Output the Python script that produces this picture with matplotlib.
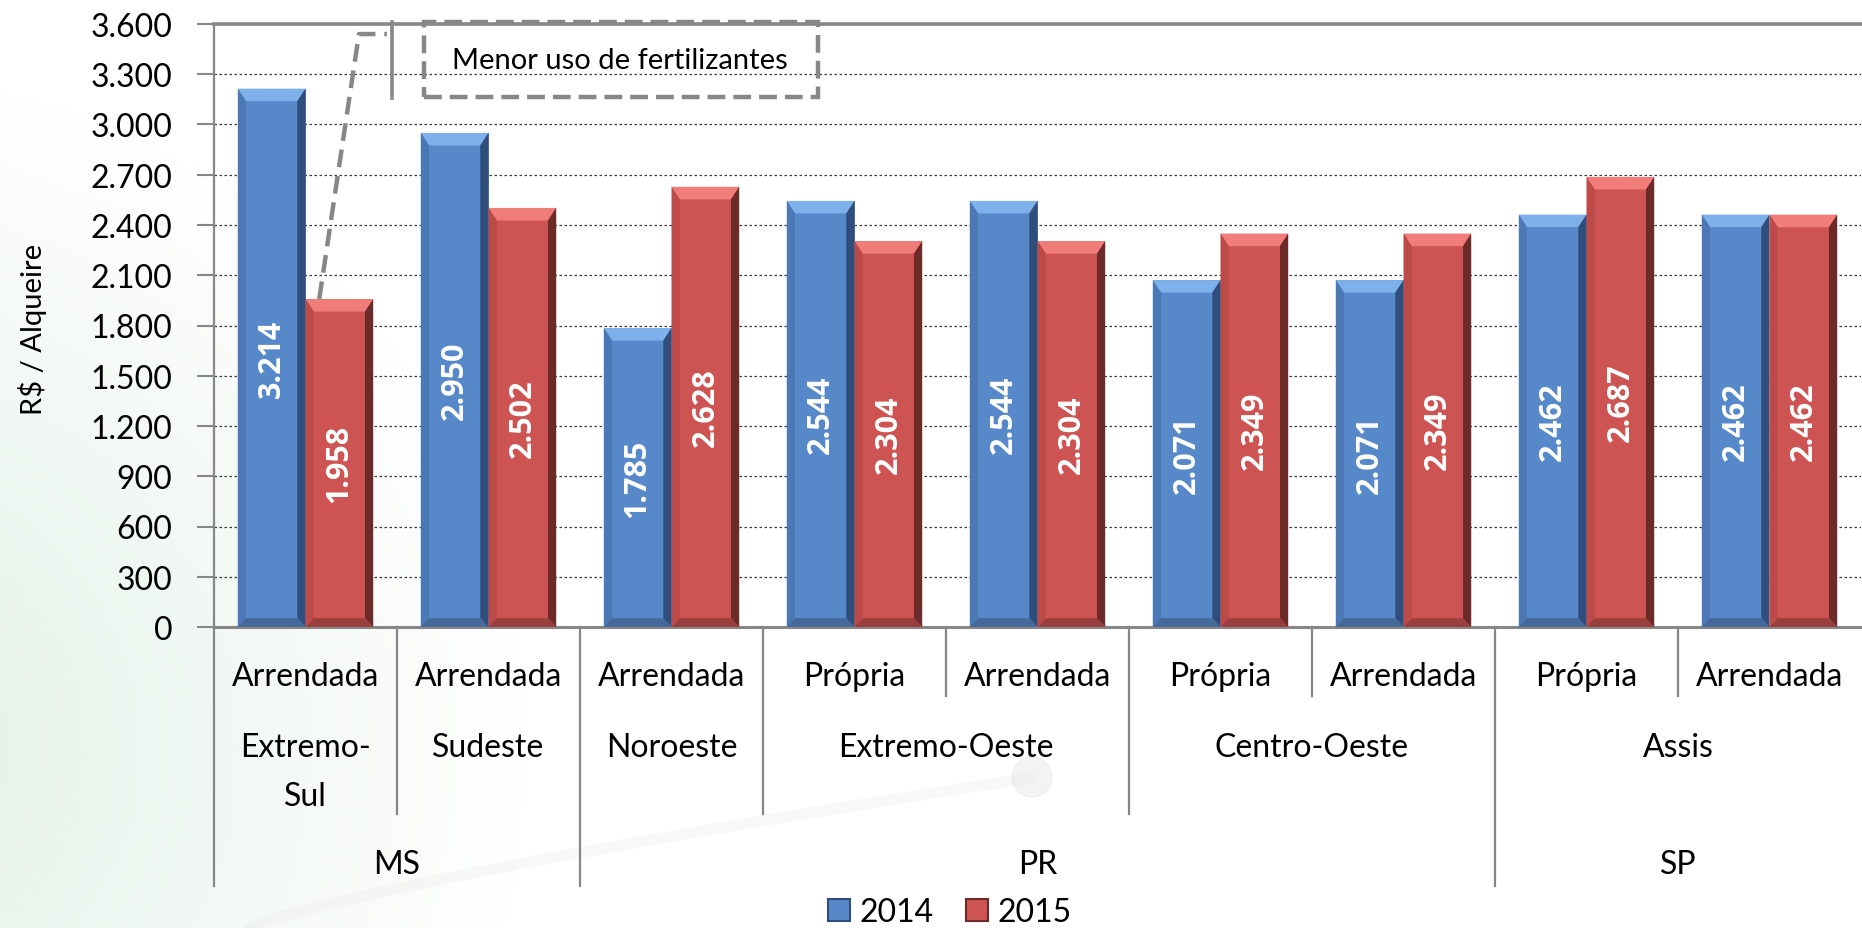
import numpy as np
import matplotlib
matplotlib.use("Agg")
import matplotlib.pyplot as plt
from matplotlib.patches import Polygon, Rectangle, Patch, Circle

plt.rcParams["font.family"] = ["Lato", "DejaVu Sans"]

# data
ownership = ["Arrendada", "Arrendada", "Arrendada", "Própria", "Arrendada",
             "Própria", "Arrendada", "Própria", "Arrendada"]
regions = ["Extremo-\nSul", "Sudeste", "Noroeste", "Extremo-Oeste", "Centro-Oeste", "Assis"]
region_sizes = [1, 1, 1, 2, 2, 2]
states = ["MS", "PR", "SP"]
state_sizes = [2, 5, 2]
years = ["2014", "2015"]
cost_2014 = [3214, 2950, 1785, 2544, 2544, 2071, 2071, 2462, 2462]
cost_2015 = [1958, 2502, 2628, 2304, 2304, 2349, 2349, 2687, 2462]
y_ticks = list(range(0, 3601, 300))

blue = {"face": "#5788c9", "top": "#7eb0ea", "left": "#4c79b5", "right": "#2f4e7c", "bottom": "#46699c"}
red = {"face": "#cd5452", "top": "#f07d7a", "left": "#bb4a48", "right": "#6c2a29", "bottom": "#9a3f3d"}
grey = "#878787"

W, H = 1862, 929
fig = plt.figure(figsize=(W / 100, H / 100), dpi=100)

# faint watermark-like background
bg = fig.add_axes([0, 0, 1, 1], zorder=-10)
gx, gy = np.meshgrid(np.linspace(0, W, 300), np.linspace(0, H, 150))
dist = np.hypot(gx + 150, gy - 750)
alpha = np.clip(1 - dist / 680, 0, 1) * 0.6
img = np.ones((150, 300, 4))
img[..., 0], img[..., 1], img[..., 2] = 0.80, 0.90, 0.83
img[..., 3] = alpha
bg.imshow(img, extent=[0, W, H, 0], aspect="auto")
t = np.linspace(0, 1, 50)
bg.plot(250 + 780 * t, 929 - 150 * t ** 0.8, color="#e6e6e6", lw=8, alpha=0.25, solid_capstyle="round")
bg.add_patch(Circle((1032, 778), 20, color="#e6e6e6", alpha=0.45))
bg.set_xlim(0, W)
bg.set_ylim(H, 0)
bg.axis("off")

ax = fig.add_axes([214 / W, (H - 628) / H, (1861 - 214) / W, 603 / H])
ax.set_facecolor("none")

x = np.arange(len(cost_2014)) + 0.5
bw = 0.37
bars = []
for vals, off, pal in [(cost_2014, -bw / 2, blue), (cost_2015, bw / 2, red)]:
    cont = ax.bar(x + off, vals, width=bw, color=pal["face"], zorder=3)
    bars.append(cont)
    bx, by = 0.045, 75
    for p in cont:
        x0, w, h = p.get_x(), p.get_width(), p.get_height()
        x1 = x0 + w
        shapes = [
            ([(x0, h), (x1, h), (x1 - bx, h - by), (x0 + bx, h - by)], pal["top"]),
            ([(x1, h), (x1, 0), (x1 - bx, by * 0.7), (x1 - bx, h - by)], pal["right"]),
            ([(x0, h), (x0 + bx, h - by), (x0 + bx, by * 0.7), (x0, 0)], pal["left"]),
            ([(x0, 0), (x0 + bx, by * 0.7), (x1 - bx, by * 0.7), (x1, 0)], pal["bottom"]),
        ]
        for pts, c in shapes:
            ax.add_patch(Polygon(pts, closed=True, facecolor=c, edgecolor="none", zorder=3.5))
        ax.text(x0 + w / 2, h / 2, f"{h / 1000:.3f}", rotation=90, ha="center", va="center",
                color="white", fontsize=22, fontweight="bold", family=["Open Sans", "DejaVu Sans"],
                zorder=5)

ax.set_xlim(0, len(cost_2014))
ax.set_ylim(0, 3600)
ax.set_yticks(y_ticks)
ax.set_yticklabels([f"{v:,}".replace(",", ".") for v in y_ticks], fontsize=23)
ax.set_xticks([])
ax.tick_params(axis="y", length=12, width=1.5, color=grey, pad=18)
ax.yaxis.grid(True, linestyle=(0, (2, 2)), color="#3a3a3a", lw=0.9)
ax.set_axisbelow(True)
for s in ["left", "bottom", "top"]:
    ax.spines[s].set_color(grey)
ax.spines["left"].set_linewidth(1.6)
ax.spines["bottom"].set_linewidth(2.2)
ax.spines["top"].set_linewidth(2.6)
ax.spines["right"].set_visible(False)

# multi-level category axis
ax_h = 603
def yfrac(px):
    return (628 - px) / ax_h

trans = ax.get_xaxis_transform()
for xi, lab in zip(x, ownership):
    ax.text(xi, yfrac(677), lab, ha="center", va="center", fontsize=23, transform=trans)

edges2 = np.cumsum([0] + region_sizes)
for i, lab in enumerate(regions):
    xc = (edges2[i] + edges2[i + 1]) / 2
    for k, line in enumerate(lab.split("\n")):
        ax.text(xc, yfrac(748 + 49 * k), line, ha="center", va="center", fontsize=23, transform=trans)

edges3 = np.cumsum([0] + state_sizes)
for i, lab in enumerate(states):
    xc = (edges3[i] + edges3[i + 1]) / 2
    ax.text(xc, yfrac(865), lab, ha="center", va="center", fontsize=23, transform=trans)

for b in range(len(cost_2014)):
    if b in edges3:
        depth = 887
    elif b in edges2:
        depth = 815
    else:
        depth = 697
    ax.plot([b, b], [0, yfrac(depth)], color=grey, lw=1.6, transform=trans, clip_on=False, zorder=2)

# callout
red_x0 = bars[1][0].get_x()
ax.plot([red_x0 + 0.075, 0.792, 0.945], [cost_2015[0], 3540, 3540], color=grey, lw=3.2,
        linestyle=(0, (4, 2)), clip_on=False, zorder=6)
ax.plot([0.973, 0.973], [3158, 3612], color=grey, lw=2.6, clip_on=False, zorder=6)
ax.add_patch(Rectangle((1.148, 3164), 3.30 - 1.148, 3612 - 3164, fill=False, edgecolor=grey,
                       lw=3.2, linestyle=(0, (4, 1.8)), clip_on=False, zorder=6))
ax.text(2.219, 3385, "Menor uso de fertilizantes", ha="center", va="center", fontsize=21, zorder=7)

fig.text(33 / W, (H - 329) / H, "R$ / Alqueire", rotation=90, ha="center", va="center", fontsize=21)

handles = [Patch(facecolor=blue["face"], edgecolor=blue["right"], lw=1.5),
           Patch(facecolor=red["face"], edgecolor=red["right"], lw=1.5)]
fig.legend(handles, years, loc="center", bbox_to_anchor=(950 / W, (H - 913) / H), ncol=2,
           frameon=False, fontsize=23, handlelength=0.7, handleheight=0.7, handletextpad=0.3,
           columnspacing=1.0, borderpad=0)

fig.savefig("out.png", dpi=100)
